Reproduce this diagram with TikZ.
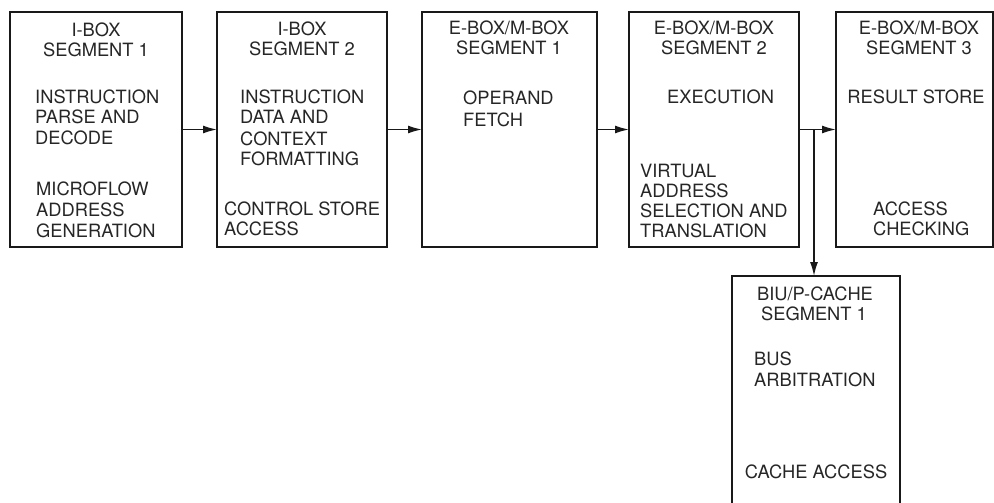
\documentclass[tikz,border=0pt]{standalone}
\usepackage{fontspec}
\setmainfont{TeX Gyre Heros}
\usetikzlibrary{arrows.meta}
\begin{document}
\begin{tikzpicture}[x=1pt,y=-1pt,
  stage/.style={draw=black!90, line width=2.1pt, inner sep=0pt, outer sep=0pt, anchor=north west},
  conn/.style={draw=black!90, line width=1.5pt, -{Latex[length=14pt,width=8pt]}},
  lbl/.style={anchor=base west, inner sep=0pt, text=black!85, font=\fontsize{18.3}{20.5}\selectfont},
  ctr/.style={anchor=base, inner sep=0pt, text=black!85, font=\fontsize{18.3}{20.5}\selectfont}]
\useasboundingbox (0,0) rectangle (994,503);
\clip (0,0) rectangle (994,503);

% pipeline stages
\node[stage, minimum width=172pt, minimum height=235pt] (b1) at (10,12) {};
\node[stage, minimum width=170pt, minimum height=235pt] (b2) at (217,12) {};
\node[stage, minimum width=175pt, minimum height=235pt] (b3) at (422,12) {};
\node[stage, minimum width=170pt, minimum height=235pt] (b4) at (629,12) {};
\node[stage, minimum width=157pt, minimum height=235pt] (b5) at (836,12) {};
\node[stage, minimum width=168pt, minimum height=245pt] (b6) at (732,276) {};

% I-box segment 1
\node[ctr] (t1a) at (96,37) {I-BOX};
\node[ctr] (t1b) at (96,57) {SEGMENT 1};
\node[lbl] (t1c) at (35,103) {INSTRUCTION};
\node[lbl] (t1d) at (35,124) {PARSE AND};
\node[lbl] (t1e) at (35,144) {DECODE};
\node[lbl] (t1f) at (36,195) {MICROFLOW};
\node[lbl] (t1g) at (36,216) {ADDRESS};
\node[lbl] (t1h) at (36,237) {GENERATION};

% I-box segment 2
\node[ctr] (t2a) at (302,36) {I-BOX};
\node[ctr] (t2b) at (302,56) {SEGMENT 2};
\node[lbl] (t2c) at (240,103) {INSTRUCTION};
\node[lbl] (t2d) at (240,124) {DATA AND};
\node[lbl] (t2e) at (240,145) {CONTEXT};
\node[lbl] (t2f) at (240,165) {FORMATTING};
\node[lbl] (t2g) at (224,215) {CONTROL STORE};
\node[lbl] (t2h) at (224,235) {ACCESS};

% E-box/M-box segment 1
\node[ctr] (t3a) at (509,35) {E-BOX/M-BOX};
\node[ctr] (t3b) at (509,55) {SEGMENT 1};
\node[lbl] (t3c) at (463,105) {OPERAND};
\node[lbl] (t3d) at (463,126) {FETCH};

% E-box/M-box segment 2
\node[ctr] (t4a) at (714,35) {E-BOX/M-BOX};
\node[ctr] (t4b) at (714,55) {SEGMENT 2};
\node[lbl] (t4c) at (667,103) {EXECUTION};
\node[lbl] (t4d) at (640,177) {VIRTUAL};
\node[lbl] (t4e) at (640,197) {ADDRESS};
\node[lbl] (t4f) at (640,217) {SELECTION AND};
\node[lbl] (t4g) at (640,237) {TRANSLATION};

% E-box/M-box segment 3
\node[ctr] (t5a) at (919,35) {E-BOX/M-BOX};
\node[ctr] (t5b) at (919,55) {SEGMENT 3};
\node[ctr] (t5c) at (916,103) {RESULT STORE};
\node[lbl] (t5d) at (873,215) {ACCESS};
\node[lbl] (t5e) at (873,235) {CHECKING};

% BIU/P-cache segment 1
\node[ctr] (t6a) at (815,300) {BIU/P-CACHE};
\node[ctr] (t6b) at (814,320) {SEGMENT 1};
\node[lbl] (t6c) at (754,365) {BUS};
\node[lbl] (t6d) at (754,386) {ARBITRATION};
\node[ctr] (t6e) at (816,478) {CACHE ACCESS};

% flow between stages
\draw[conn] (b1.east) -- (b2.west);
\draw[conn] (b2.east) -- (b3.west);
\draw[conn] (b3.east) -- (b4.west);
\draw[conn] (b4.east) -- (b5.west);
\coordinate (j) at (814,129.5);
\draw[conn] (j) -- (j |- b6.north);
\end{tikzpicture}
\end{document}
